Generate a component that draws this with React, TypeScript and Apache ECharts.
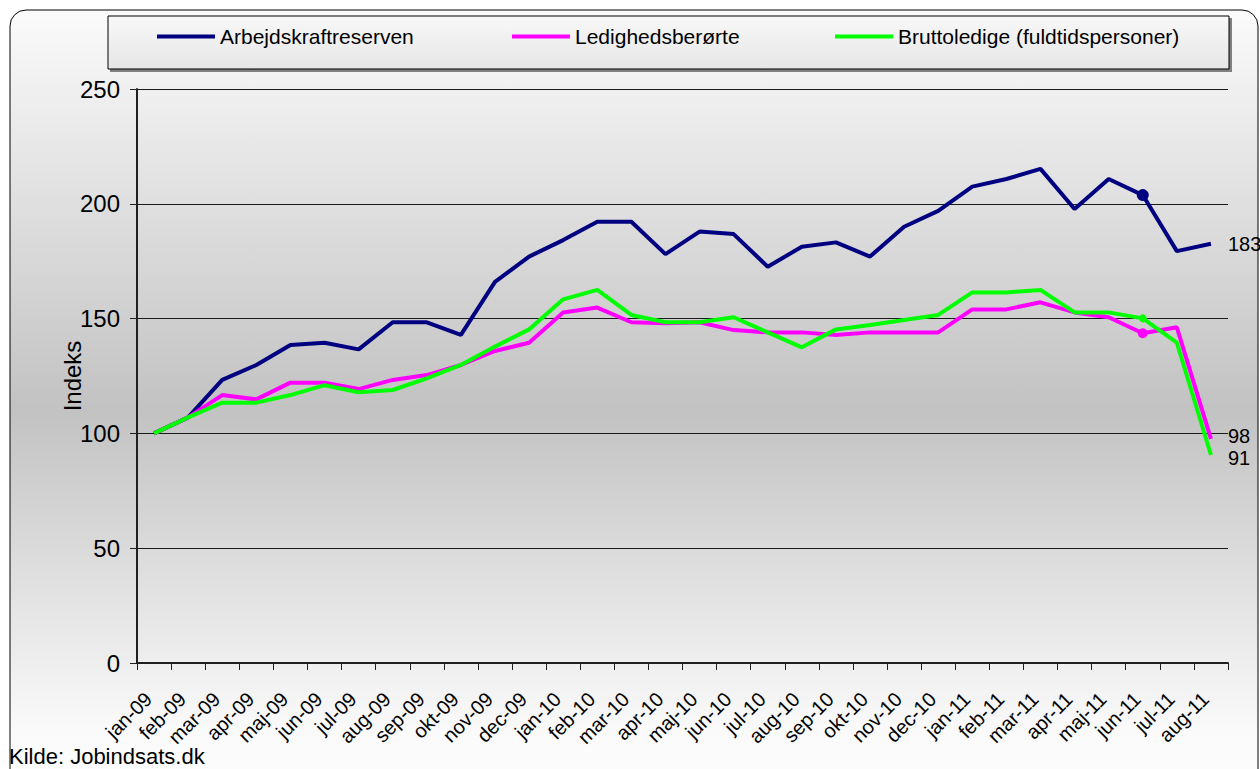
import React, { useEffect, useRef } from "react";
import * as echarts from "echarts";

const categories = [
  "jan-09", "feb-09", "mar-09", "apr-09", "maj-09", "jun-09", "jul-09", "aug-09",
  "sep-09", "okt-09", "nov-09", "dec-09", "jan-10", "feb-10", "mar-10", "apr-10",
  "maj-10", "jun-10", "jul-10", "aug-10", "sep-10", "okt-10", "nov-10", "dec-10",
  "jan-11", "feb-11", "mar-11", "apr-11", "maj-11", "jun-11", "jul-11", "aug-11",
];

const arbejdskraftreserven = [
  100, 107, 123.3, 129.8, 138.5, 139.5, 136.6, 148.4, 148.4, 142.9, 166, 177,
  184.2, 192.2, 192.2, 178.1, 187.9, 186.8, 172.6, 181.3, 183.2, 177, 190, 196.9,
  207.5, 210.8, 215.2, 197.7, 210.8, 203.8, 179.4, 182.6,
];

const ledighedsberorte = [
  100, 107, 116.7, 114.8, 122.1, 122.1, 119.3, 123.3, 125.4, 129.8, 135.9, 139.5,
  152.7, 154.8, 148.4, 148, 148.4, 145, 144, 144, 142.9, 144, 144, 144,
  154, 154, 157.1, 152.7, 150.6, 143.6, 146.2, 97.6,
];

const bruttoledige = [
  100, 107, 113.4, 113.4, 116.7, 121, 117.9, 118.9, 124, 129.8, 137.8, 145.3,
  158.4, 162.5, 151.6, 148.4, 148.4, 150.6, 144, 137.5, 145.3, 147.2, 149.4, 151.6,
  161.4, 161.4, 162.5, 152.7, 152.7, 150.1, 139.5, 90.6,
];

const seriesNames = ["Arbejdskraftreserven", "Ledighedsberørte", "Bruttoledige (fuldtidspersoner)"];
const seriesColors = ["#000080", "#ff00ff", "#00ff00"];
const markerSizes = [12, 10, 8];
const labelOffsets = [[0, 0], [0, -3], [0, 3]];
const markedCategory = "jun-11";
const yTicks = [0, 50, 100, 150, 200, 250];

const FONT = "'Liberation Sans', Arial, sans-serif";

export default function App() {
  const ref = useRef<HTMLDivElement>(null);

  useEffect(() => {
    if (!ref.current) return;
    const chart = echarts.init(ref.current, null, { renderer: "svg" });
    const markIdx = categories.indexOf(markedCategory);
    const allData = [arbejdskraftreserven, ledighedsberorte, bruttoledige];

    const series = allData.map((d, i) => ({
      name: seriesNames[i],
      type: "line",
      data: d,
      z: 3 + i,
      color: seriesColors[i],
      lineStyle: { color: seriesColors[i], width: 4 },
      itemStyle: { color: seriesColors[i] },
      symbol: "circle",
      showAllSymbol: true,
      symbolSize: (_v: any, p: any) => (p.dataIndex === markIdx ? markerSizes[i] : 0),
      endLabel: {
        show: true,
        formatter: (p: any) => String(Math.round(p.value)),
        color: "#000",
        fontSize: 20,
        lineHeight: 15,
        fontFamily: FONT,
        distance: 17,
        offset: labelOffsets[i],
      },
      emphasis: { disabled: true },
    }));

    const legendLefts = [157, 512, 835];

    chart.setOption({
      animation: false,
      backgroundColor: "#ffffff",
      textStyle: { fontFamily: FONT },
      graphic: [
        {
          type: "rect",
          shape: { x: 10, y: 10, width: 1248, height: 800, r: 16 },
          style: {
            fill: {
              type: "linear", x: 0, y: 0, x2: 0, y2: 1,
              colorStops: [
                { offset: 0, color: "#fbfbfb" },
                { offset: 0.5, color: "#c2c2c2" },
                { offset: 0.9, color: "#fafafa" },
                { offset: 1, color: "#ffffff" },
              ],
            },
            stroke: "#000",
            lineWidth: 1,
          },
          silent: true,
        },
        {
          type: "rect",
          shape: { x: 110, y: 18, width: 1122, height: 54 },
          style: { fill: "#808080" },
          silent: true,
        },
        {
          type: "rect",
          shape: { x: 108, y: 16, width: 1121, height: 53 },
          style: {
            fill: {
              type: "linear", x: 0, y: 0, x2: 0, y2: 1,
              colorStops: [
                { offset: 0, color: "#f8f8f8" },
                { offset: 1, color: "#e6e6e6" },
              ],
            },
            stroke: "#000",
            lineWidth: 1,
          },
          silent: true,
        },
        {
          type: "text",
          left: 9,
          top: 745,
          style: { text: "Kilde: Jobindsats.dk", fontSize: 22, fill: "#000", fontFamily: FONT },
          silent: true,
        },
      ],
      legend: seriesNames.map((n, i) => ({
        data: [{ name: n, icon: "rect" }],
        left: legendLefts[i],
        top: 26,
        padding: 0,
        itemWidth: 58,
        itemHeight: 4,
        selectedMode: false,
        textStyle: { fontSize: 21, color: "#000", fontFamily: FONT },
      })),
      grid: {
        left: 137,
        right: 32,
        top: 89,
        bottom: 106,
        show: true,
        backgroundColor: {
          type: "linear", x: 0, y: 0, x2: 0, y2: 1,
          colorStops: [
            { offset: 0, color: "#bdbdbd" },
            { offset: 1, color: "#dedede" },
          ],
        },
        borderColor: "#808080",
        borderWidth: 3,
      },
      xAxis: {
        type: "category",
        data: categories,
        boundaryGap: true,
        axisLine: { show: true, lineStyle: { color: "#202020", width: 2 } },
        axisTick: { show: true, length: 7, lineStyle: { color: "#202020", width: 1 } },
        axisLabel: {
          rotate: 45,
          interval: 0,
          fontSize: 20,
          color: "#000",
          margin: 27,
          padding: [0, 8, 0, 0],
          fontFamily: FONT,
        },
        splitLine: { show: false },
      },
      yAxis: {
        type: "value",
        min: yTicks[0],
        max: yTicks[yTicks.length - 1],
        interval: 50,
        name: "Indeks",
        nameLocation: "middle",
        nameGap: 53,
        nameRotate: 90,
        nameMoveOverlap: false,
        nameTextStyle: { fontSize: 24, color: "#000", fontFamily: FONT },
        axisLine: { show: true, lineStyle: { color: "#202020", width: 2 } },
        axisTick: { show: true, length: 7, lineStyle: { color: "#202020", width: 1 } },
        axisLabel: { fontSize: 24, color: "#000", margin: 17, fontFamily: FONT },
        splitLine: { show: true, lineStyle: { color: "#1a1a1a", width: 1 } },
      },
      series,
    });

    return () => chart.dispose();
  }, []);

  return (
    <div
      ref={ref}
      style={{ position: "absolute", left: 0, top: 0, width: 1260, height: 769 }}
    />
  );
}
